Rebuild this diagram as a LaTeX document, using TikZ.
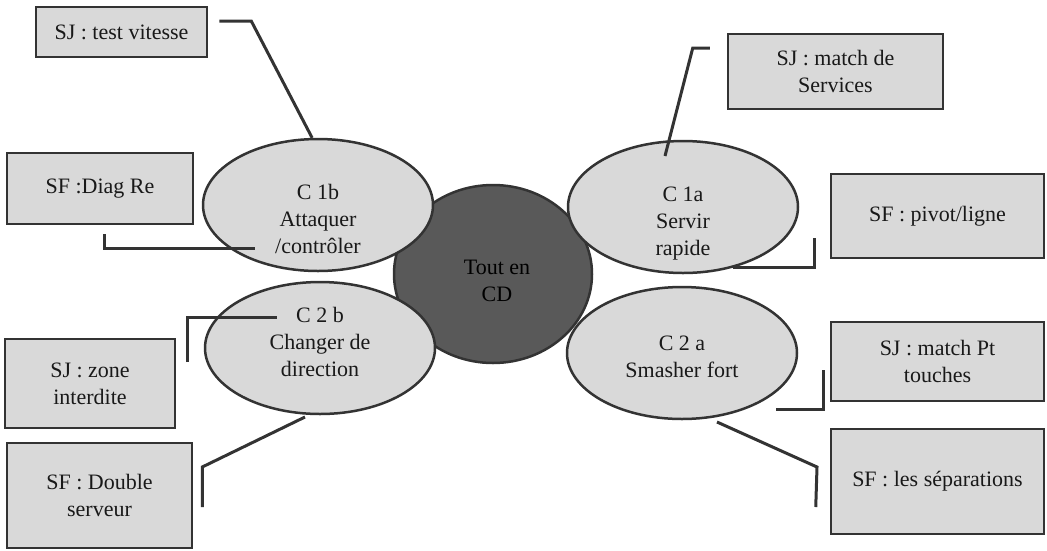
\documentclass[tikz,border=0pt]{standalone}
\usepackage{fontspec}
\setmainfont{Liberation Serif}
\usetikzlibrary{shapes.geometric,calc}
\definecolor{boxgray}{HTML}{D9D9D9}
\definecolor{hubgray}{HTML}{595959}
\definecolor{edgegray}{HTML}{333333}

\tikzset{
  card/.style  = {shape=rectangle, draw=edgegray, line width=2.5pt,
                  fill=boxgray, align=center, text=black!90,
                  font=\fontsize{22}{27}\selectfont},
  skill/.style = {shape=ellipse, draw=edgegray, line width=2.5pt,
                  fill=boxgray, inner sep=0pt,
                  minimum width=230pt, minimum height=132pt},
  hub/.style   = {skill, fill=hubgray,
                  minimum width=198pt, minimum height=178pt},
  words/.style = {align=center, inner sep=0pt, text=black!90,
                  font=\fontsize{22}{27}\selectfont},
  link/.style  = {draw=edgegray, line width=3pt}
}

\begin{document}
\begin{tikzpicture}[x=1pt, y=-1pt]
\useasboundingbox (0,0) rectangle (1047,550);

% centre and the four skills
\node [hub]   (hub) at (493,274) {};
\node [skill] (c1b) at (318,205) {};
\node [skill] (c1a) at (683,207) {};
\node [skill] (c2b) at (320,348) {};
\node [skill] (c2a) at (682,353) {};

\node [words, text=black] (hubText) at ($(hub)+(4,7)$)  {Tout en\\CD};
\node [words] (c1bText) at ($(c1b)+(0,14)$)  {C 1b\\Attaquer\\/contrôler};
\node [words] (c1aText) at ($(c1a)+(0,17)$)  {C 1a\\Servir\\rapide};
\node [words] (c2bText) at ($(c2b)+(0,-6)$)  {C 2 b\\Changer de\\direction};
\node [words] (c2aText) at ($(c2a)+(0,4)$)   {C 2 a\\Smasher fort};

% situations
\node [card, minimum width=171pt, minimum height=50pt]  (sjvit)    at (121.5,32)  {SJ : test vitesse};
\node [card, minimum width=186pt, minimum height=71pt]  (sfdiag)   at (100,188.5) {SF :Diag Re};
\node [card, minimum width=215pt, minimum height=75pt]  (sjserv)   at (835.5,71.5) {SJ : match de\\Services};
\node [card, minimum width=213pt, minimum height=84pt]  (sfpiv)    at (937.5,216) {SF : pivot/ligne};
\node [card, minimum width=170pt, minimum height=89pt]  (sjzone)   at (90,383.5)  {SJ : zone\\interdite};
\node [card, minimum width=185pt, minimum height=105pt] (sfdouble) at (99.5,495.5) {SF : Double\\serveur};
\node [card, minimum width=213pt, minimum height=79pt]  (sjpt)     at (937.5,361.5) {SJ : match Pt\\touches};
\node [card, minimum width=213pt, minimum height=105pt] (sfsep)    at (937.5,481.5) {SF : les séparations};

% free ends of the links
\coordinate (vitEnd)    at ($(sjvit.east)+(11,-11)$);
\coordinate (diagEnd)   at ($(sfdiag.south)+(4,9)$);
\coordinate (servEnd)   at ($(sjserv.west)+(-17,-23.5)$);
\coordinate (pivEnd)    at ($(sfpiv.west)+(-15,22)$);
\coordinate (zoneEnd)   at ($(sjzone.east)+(11,-21.5)$);
\coordinate (doubleEnd) at ($(sfdouble.east)+(9,11.5)$);
\coordinate (ptEnd)     at ($(sjpt.west)+(-6,8.5)$);
\coordinate (sepEnd)    at ($(sfsep.west)+(-14,25.5)$);

% links
\draw [link] (vitEnd) -- ++(32,0) -- (c1b.95);
\draw [link] (diagEnd) |- ($(c1b.center)+(-63,43)$);
\draw [link] (servEnd) -- ++(-17,0) -- ($(c1a.center)+(-18,-51)$);
\draw [link] ($(c1a.center)+(50,60)$) -| (pivEnd);
\draw [link] (zoneEnd) |- ($(c2bText.north west)+(8,10)$);
\draw [link] (doubleEnd) -- ++(0,-40) -- ($(c2b.center)+(-15,69)$);
\draw [link] ($(c2a.center)+(94,56)$) -| (ptEnd);
\draw [link] ($(c2a.center)+(35,69)$) -- ++(100,45) -- (sepEnd);
\end{tikzpicture}
\end{document}
